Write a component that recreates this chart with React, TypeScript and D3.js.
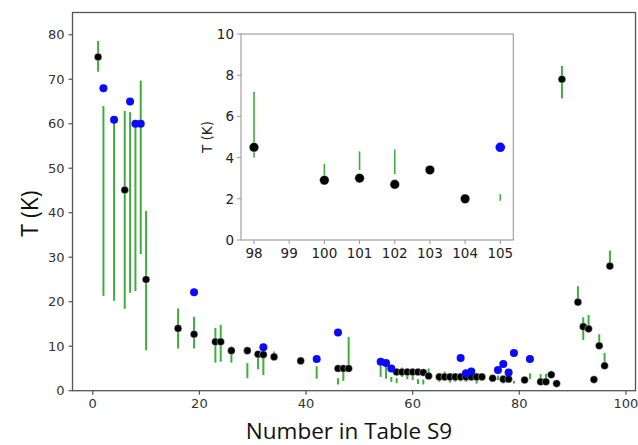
import React from "react";
import * as d3 from "d3";

// [x, T]
const blackPts: [number, number][] = [
  [1, 75], [6, 45.1], [10, 25], [16, 14], [19, 12.7], [23, 11], [24, 11], [26, 9], [29, 9],
  [31, 8.2], [32, 8.1], [34, 7.6], [39, 6.7], [46, 5], [47, 5], [48, 5],
  [57, 4.2], [58, 4.2], [59, 4.2], [60, 4.2], [61, 4.2], [62, 4.1], [63, 3.3],
  [65, 3.1], [66, 3.1], [67, 3.1], [68, 3.1], [69, 3.1], [70, 3.1], [71, 3.1], [72, 3.1], [73, 3.1],
  [75, 2.8], [77, 2.6], [78, 2.6], [81, 2.4], [84, 2.0], [85, 2.0], [86, 3.6], [87, 1.6],
  [88, 70], [91, 19.9], [92, 14.4], [93, 13.9], [94, 2.5], [95, 10.1], [96, 5.6], [97, 28],
];

const bluePts: [number, number][] = [
  [2, 68], [4, 60.9], [7, 65], [8, 60], [9, 60], [19, 22.1], [32, 9.75], [42, 7.1], [46, 13.1],
  [54, 6.5], [55, 6.2], [56, 5.0], [69, 7.35], [70, 3.9], [71, 4.3], [76, 4.65], [77, 6.0],
  [78, 4.1], [79, 8.5], [82, 7.1],
];

// [x, low, high]
const bars: [number, number, number][] = [
  [1, 71.7, 78.6], [2, 21.3, 64], [4, 20.2, 60.5], [6, 18.4, 62.9], [7, 22, 62.6], [8, 22.4, 60],
  [9, 30.7, 69.7], [10, 9.1, 40.4], [16, 9.5, 18.5], [19, 9.5, 16.6], [23, 6.3, 14.1], [24, 6.5, 14.8],
  [26, 6.3, 9.9], [29, 2.8, 6.2], [31, 4.8, 7.8], [32, 3.5, 8.5], [34, 7.3, 8.8], [39, 6.5, 7.6],
  [42, 2.7, 5.5], [46, 1.4, 2.8], [47, 2.2, 4.3], [48, 5, 12.1], [54, 3.1, 5.6], [55, 2.7, 5.4],
  [56, 2.0, 3.1], [57, 1.7, 2.8], [58, 3.1, 5.2], [59, 2.6, 5.0], [60, 2.4, 4.6], [61, 1.5, 2.6],
  [62, 1.4, 2.5], [63, 3.5, 5.0], [65, 2.0, 3.9], [66, 2.3, 4.3], [67, 1.8, 3.5], [68, 2.0, 3.6],
  [69, 2.1, 3.9], [70, 2.0, 3.5], [71, 2.3, 4.0], [72, 1.6, 2.8], [73, 2.6, 3.4], [76, 2.4, 3.4],
  [77, 1.6, 3.3], [78, 1.8, 2.8], [79, 1.6, 2.2], [82, 2.6, 3.9], [84, 2.0, 3.7], [85, 2.0, 3.8],
  [86, 3.7, 4.5], [88, 65.7, 73], [91, 19.9, 23.5], [92, 11.4, 16.5], [93, 13.9, 17],
  [95, 10.1, 12.7], [96, 5.6, 8.5], [97, 28, 31.5],
];

const xTicks = [0, 20, 40, 60, 80, 100];
const yTicks = [0, 10, 20, 30, 40, 50, 60, 70, 80];

// inset
const insetBlack: [number, number][] = [[98, 4.5], [100, 2.9], [101, 3.0], [102, 2.7], [103, 3.4], [104, 2.0]];
const insetBlue: [number, number][] = [[105, 4.5]];
const insetBars: [number, number, number][] = [
  [98, 4.0, 7.2], [100, 2.9, 3.7], [101, 3.4, 4.3], [102, 3.2, 4.4], [103, 3.15, 3.55], [104, 1.75, 2.1], [105, 1.9, 2.23],
];
const insetXTicks = [98, 99, 100, 101, 102, 103, 104, 105];
const insetYTicks = [0, 2, 4, 6, 8, 10];

const GREEN = "#3fae3f";
const BLUE = "#0a0aff";
const TICKFONT = "DejaVu Sans, sans-serif";
const LABELFONT = "Open Sans, sans-serif";

export default function App() {
  const L = 72.5, R = 635.5, T = 12.5, B = 390.7;
  const x = d3.scaleLinear().domain([-3.8, 101.8]).range([L, R]);
  const y = d3.scaleLinear().domain([0, 85]).range([B, T]);

  const iL = 241, iR = 513.3, iT = 34, iB = 240;
  const ix = d3.scaleLinear().domain([97.63, 105.37]).range([iL, iR]);
  const iy = d3.scaleLinear().domain([0, 10]).range([iB, iT]);

  return (
    <svg width={638} height={445} style={{ position: "absolute", left: 0, top: 0, background: "#fff" }}>
      <rect x={0} y={0} width={638} height={445} fill="#fff" />
      {/* main bars */}
      {bars.map(([xv, lo, hi], i) => (
        <line key={"b" + i} x1={x(xv)} x2={x(xv)} y1={y(lo)} y2={y(hi)} stroke={GREEN} strokeWidth={2} />
      ))}
      {blackPts.map(([xv, yv], i) => (
        <circle key={"k" + i} cx={x(xv)} cy={y(yv)} r={3.8} fill="#000" stroke="#fff" strokeWidth={0.4} />
      ))}
      {bluePts.map(([xv, yv], i) => (
        <circle key={"u" + i} cx={x(xv)} cy={y(yv)} r={4} fill={BLUE} />
      ))}
      {/* main frame */}
      <rect x={L} y={T} width={R - L} height={B - T} fill="none" stroke="#555" strokeWidth={1.3} />
      {xTicks.map((t) => (
        <g key={"xt" + t}>
          <line x1={x(t)} x2={x(t)} y1={B} y2={B + 4} stroke="#555" strokeWidth={1.2} />
          <text x={x(t)} y={B + 17} textAnchor="middle" fontSize={13} fontFamily={TICKFONT} fill="#333">{t}</text>
        </g>
      ))}
      {yTicks.map((t) => (
        <g key={"yt" + t}>
          <line x1={L - 4} x2={L} y1={y(t)} y2={y(t)} stroke="#555" strokeWidth={1.2} />
          <text x={L - 8} y={y(t) + 4.5} textAnchor="end" fontSize={13} fontFamily={TICKFONT} fill="#333">{t}</text>
        </g>
      ))}
      <text x={349} y={439} textAnchor="middle" fontSize={22.5} fontFamily={LABELFONT} fill="#111">Number in Table S9</text>
      <text transform={`translate(38,${(T + B) / 2 + 12}) rotate(-90)`} textAnchor="middle" fontSize={23} fontFamily={LABELFONT} fill="#111">T (K)</text>

      {/* inset */}
      <rect x={iL} y={iT} width={iR - iL} height={iB - iT} fill="#fff" />
      {insetBars.map(([xv, lo, hi], i) => (
        <line key={"ib" + i} x1={ix(xv)} x2={ix(xv)} y1={iy(lo)} y2={iy(hi)} stroke={GREEN} strokeWidth={1.6} />
      ))}
      {insetBlack.map(([xv, yv], i) => (
        <circle key={"ik" + i} cx={ix(xv)} cy={iy(yv)} r={4.8} fill="#000" stroke="#fff" strokeWidth={0.5} />
      ))}
      {insetBlue.map(([xv, yv], i) => (
        <circle key={"iu" + i} cx={ix(xv)} cy={iy(yv)} r={4.8} fill={BLUE} />
      ))}
      <rect x={iL} y={iT} width={iR - iL} height={iB - iT} fill="none" stroke="#999" strokeWidth={1.1} />
      {insetXTicks.map((t) => (
        <g key={"ixt" + t}>
          <line x1={ix(t)} x2={ix(t)} y1={iB} y2={iB + 4} stroke="#999" strokeWidth={1} />
          <text x={ix(t)} y={iB + 18} textAnchor="middle" fontSize={13.5} fontFamily={TICKFONT} fill="#222">{t}</text>
        </g>
      ))}
      {insetYTicks.map((t) => (
        <g key={"iyt" + t}>
          <line x1={iL - 4} x2={iL} y1={iy(t)} y2={iy(t)} stroke="#999" strokeWidth={1} />
          <text x={iL - 7} y={iy(t) + 5} textAnchor="end" fontSize={13.5} fontFamily={TICKFONT} fill="#222">{t}</text>
        </g>
      ))}
      <text transform={`translate(212,${(iT + iB) / 2}) rotate(-90)`} textAnchor="middle" fontSize={13.5} fontFamily={TICKFONT} fill="#222">T (K)</text>
    </svg>
  );
}
